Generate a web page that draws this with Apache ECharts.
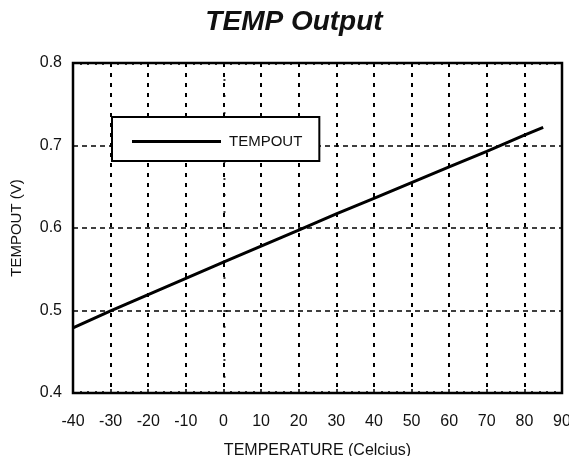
<!DOCTYPE html>
<html>
<head>
<meta charset="utf-8">
<script src="https://cdn.jsdelivr.net/npm/echarts@6/dist/echarts.min.js"></script>
<style>
  html, body { margin: 0; padding: 0; background: #fff; }
  #chart { width: 569px; height: 456px; }
</style>
</head>
<body>
<div id="chart"></div>
<script>
// TEMPOUT pin voltage versus die temperature
const temperatures = [-40, -30, -20, -10, 0, 10, 20, 30, 40, 50, 60, 70, 80, 85];
const tempoutVolts = [0.479, 0.4995, 0.5193, 0.539, 0.5585, 0.578, 0.5975, 0.617, 0.636, 0.655, 0.674, 0.693, 0.7125, 0.722];
const seriesName = 'TEMPOUT';

const xTicks = { min: -40, max: 90, step: 10 };
const yTicks = { min: 0.4, max: 0.8, step: 0.1 };

const FONT = '"Liberation Sans", Arial, Helvetica, sans-serif';

const chart = echarts.init(document.getElementById('chart'), null, { renderer: 'canvas' });

const points = temperatures.map((t, i) => [t, tempoutVolts[i]]);

chart.setOption({
  backgroundColor: '#ffffff',
  animation: false,
  textStyle: { fontFamily: FONT, color: '#000' },
  title: {
    text: 'TEMP Output',
    left: 289,
    textAlign: 'center',
    top: 3,
    textStyle: {
      fontFamily: FONT,
      fontSize: 28,
      fontWeight: 'bold',
      fontStyle: 'italic',
      color: '#111'
    }
  },
  legend: {
    data: [seriesName],
    left: 112,
    top: 117,
    orient: 'horizontal',
    backgroundColor: '#fff',
    borderColor: '#000',
    borderWidth: 2,
    borderRadius: 0,
    padding: [17, 17, 12, 20],
    icon: 'rect',
    itemWidth: 89,
    itemHeight: 3,
    itemStyle: { color: '#000' },
    textStyle: { fontFamily: FONT, fontSize: 15, color: '#111', padding: [0, 0, 0, 3] },
    selectedMode: false
  },
  grid: {
    left: 73,
    right: 7,
    top: 63,
    bottom: 63,
    outerBoundsMode: 'none',
    containLabel: false,
    show: true,
    borderColor: '#000',
    borderWidth: 2.5,
    backgroundColor: 'transparent'
  },
  xAxis: [
    {
      type: 'value',
      position: 'bottom',
      min: xTicks.min,
      max: xTicks.max,
      interval: xTicks.step,
      name: 'TEMPERATURE (Celcius)',
      nameLocation: 'middle',
      nameGap: 50,
      nameTextStyle: { fontFamily: FONT, fontSize: 16, color: '#111' },
      axisLine: { show: false },
      axisTick: { show: true, inside: true, length: 4, lineStyle: { color: '#000', width: 1.5 } },
      minorTick: { show: true, splitNumber: 5, length: 2, lineStyle: { color: '#000', width: 1.5 } },
      axisLabel: { fontFamily: FONT, fontSize: 16, color: '#111', margin: 21, showMinLabel: true, showMaxLabel: true },
      splitLine: { show: true, lineStyle: { color: '#000', width: 2, type: [4, 6] } }
    },
    {
      type: 'value',
      position: 'top',
      min: xTicks.min,
      max: xTicks.max,
      interval: xTicks.step,
      axisLine: { show: false },
      axisTick: { show: true, inside: true, length: 4, lineStyle: { color: '#000', width: 1.5 } },
      minorTick: { show: true, splitNumber: 5, length: 2, lineStyle: { color: '#000', width: 1.5 } },
      axisLabel: { show: false },
      splitLine: { show: false }
    }
  ],
  yAxis: {
    type: 'value',
    min: yTicks.min,
    max: yTicks.max,
    interval: yTicks.step,
    name: 'TEMPOUT (V)',
    nameLocation: 'middle',
    nameRotate: 90,
    nameGap: 49,
    nameTextStyle: { fontFamily: FONT, fontSize: 15, color: '#111' },
    axisLine: { show: false },
    axisTick: { show: true, inside: true, length: 4, lineStyle: { color: '#000', width: 1.5 } },
    minorTick: { show: true, splitNumber: 5, length: 2, lineStyle: { color: '#000', width: 1.5 } },
    axisLabel: {
      fontFamily: FONT,
      fontSize: 16,
      color: '#111',
      margin: 11,
      padding: [0, 0, 7, 0],
      formatter: v => v.toFixed(1)
    },
    splitLine: { show: true, lineStyle: { color: '#000', width: 1.5, type: [5, 4] } }
  },
  series: [
    {
      name: seriesName,
      type: 'line',
      xAxisIndex: 0,
      data: points,
      showSymbol: false,
      symbol: 'none',
      smooth: false,
      lineStyle: { color: '#000', width: 3 },
      itemStyle: { color: '#000' },
      z: 5
    }
  ]
});
</script>
</body>
</html>
